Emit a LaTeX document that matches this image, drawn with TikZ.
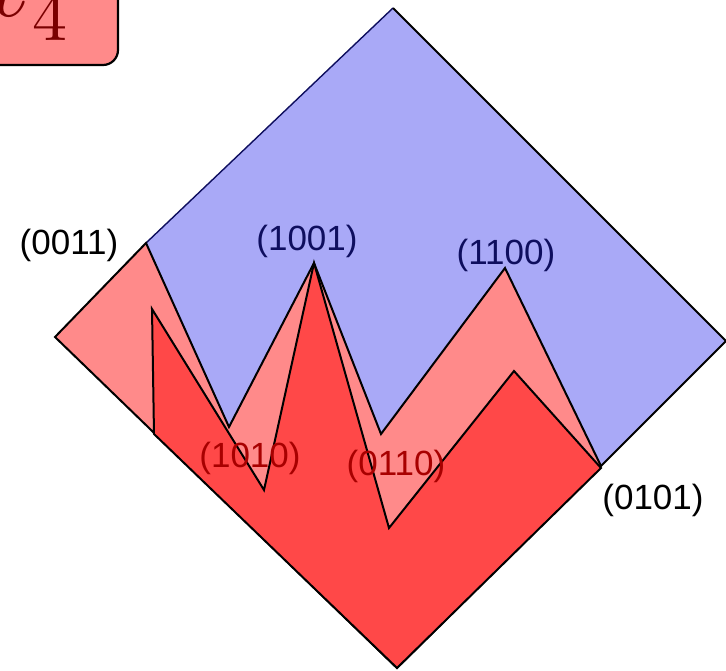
\documentclass[tikz,border=0pt]{standalone}
\usepackage{fontspec}
\setmainfont{Liberation Sans}
\usepackage{unicode-math}
\setmathfont{Latin Modern Math}
\definecolor{bluefill}{HTML}{A9A9F7}
\definecolor{lightred}{HTML}{FF8A8A}
\definecolor{darkred}{HTML}{FF4848}
\definecolor{navytext}{HTML}{0E0E5E}
\definecolor{redtext}{HTML}{A80000}
\definecolor{boxtext}{HTML}{7A0000}
\tikzset{
  region/.style={draw=black, line width=2pt, line join=miter},
  lbl/.style={inner sep=0pt, font=\fontsize{35}{35}\selectfont},
}
\begin{document}
\begin{tikzpicture}[x=1pt,y=-1pt]
\useasboundingbox (0,0) rectangle (726,670);
% title box
\draw[fill=lightred, line width=2.2pt, rounded corners=15pt] (-40,-40) rectangle (118,65);
\node[inner sep=0pt, anchor=base east, text=boxtext, font=\fontsize{100}{100}\selectfont] (title) at (68,16) {$x_4$};
% blue region
\fill[bluefill] (146,243) -- (393,8) -- (726,341) -- (601,466) -- (505,268) -- (381,434) -- (314,263) -- (229,427) -- cycle;
\draw[navytext, line width=1.4pt] (146,243) -- (393,8);
\draw[black, line width=2pt] (393,8) -- (726,341) -- (601,466);
% light red region
\fill[lightred] (146,243) -- (229,427) -- (314,263) -- (381,434) -- (505,268) -- (601,466) -- (397,668) -- (55,337) -- cycle;
\draw[region] (146,243) -- (229,427) -- (314,263) -- (381,434) -- (505,268) -- (601,466) -- (397,668) -- (55,337) -- cycle;
% dark red region
\draw[region, fill=darkred] (152,309) -- (264,490) -- (314,263) -- (389,528) -- (514,371) -- (601,468) -- (397,668) -- (154,434) -- cycle;
% labels
\node[lbl, text=black] (l0011) at (69,245) {(0011)};
\node[lbl, text=navytext] (l1001) at (307,241) {(1001)};
\node[lbl, text=navytext] (l1100) at (506,255) {(1100)};
\node[lbl, text=redtext] (l1010) at (250,458) {(1010)};
\node[lbl, text=redtext] (l0110) at (396,466) {(0110)};
\node[lbl, text=black] (l0101) at (653,500) {(0101)};
\end{tikzpicture}
\end{document}
